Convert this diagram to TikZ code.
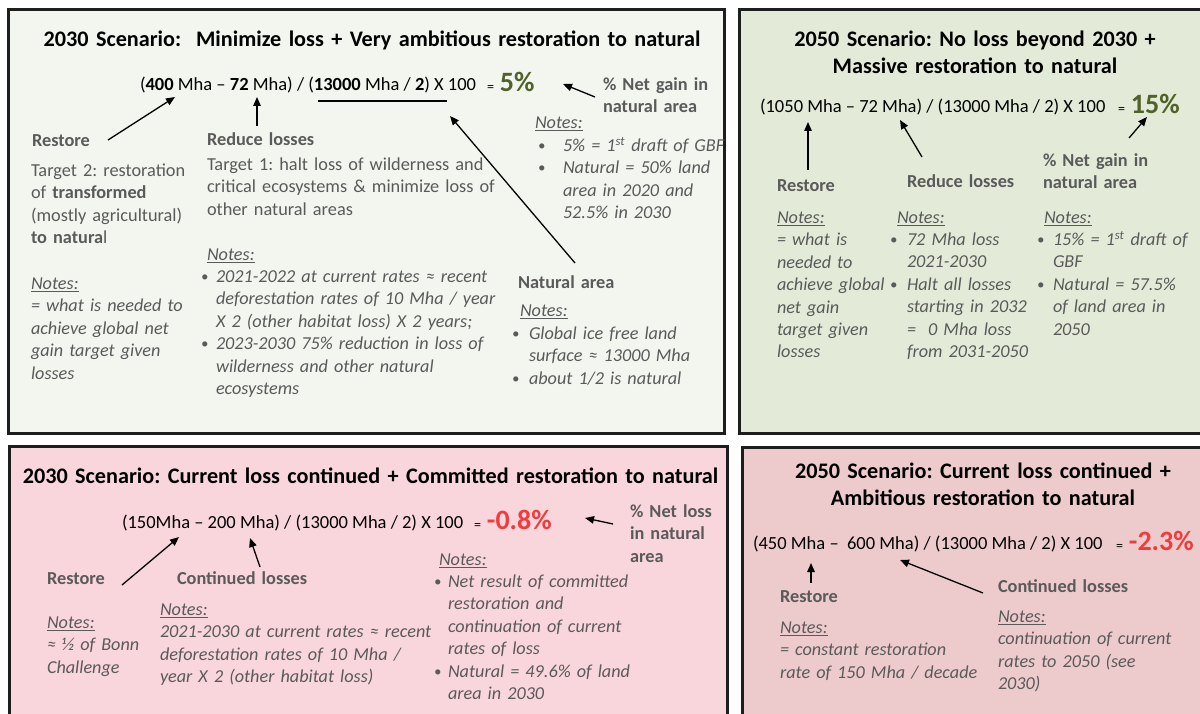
\documentclass[tikz,border=0pt]{standalone}
\usepackage{fontspec}
\setmainfont{Carlito}
\usetikzlibrary{arrows.meta}
\frenchspacing

\definecolor{paneA}{HTML}{F3F5EF}
\definecolor{paneB}{HTML}{E3EBD8}
\definecolor{paneC}{HTML}{F8D6DB}
\definecolor{paneD}{HTML}{EDCBCC}
\definecolor{frame}{HTML}{1E1E1E}
\definecolor{ink}{HTML}{5A5A5A}
\definecolor{gain}{HTML}{4F6228}
\definecolor{loss}{HTML}{F23C3C}

\newcommand{\bul}[1]{\makebox[#1][l]{\raisebox{1pt}{\scalebox{0.8}{\textbullet}}}}
\newcommand{\ind}[1]{\hspace*{#1}}
\newcommand{\nts}{\underline{Notes:}}
\newcommand{\eqsg}{{\fontsize{14}{14}\mdseries\selectfont\color{black}=}\hspace{6pt}}

\begin{document}
\begin{tikzpicture}[x=1pt, y=-1pt,
  every node/.style = {inner sep=0pt, outer sep=0pt, anchor=base west, align=left}]
  \tikzset{
    panel/.style = {draw=frame, line width=3pt},
    title/.style = {font=\bfseries\fontsize{22.2}{27}\selectfont, align=center, anchor=base, text width=760pt},
    eqn/.style = {font=\fontsize{18.5}{22}\selectfont},
    res/.style = {font=\bfseries\fontsize{28}{30}\selectfont},
    lbl/.style = {font=\bfseries\fontsize{18.3}{22.4}\selectfont, text=ink, text width=300pt},
    txt/.style = {font=\fontsize{18.3}{22.4}\selectfont, text=ink, text width=400pt},
    note/.style = {font=\itshape\fontsize{18.2}{22.4}\selectfont, text=ink, text width=400pt},
    conn/.style = {-{Triangle[length=9pt,width=7.5pt]}, line width=1.3pt}
  }
  \useasboundingbox (0,0) rectangle (1200,714);
  \fill[white] (0,0) rectangle (1200,714);
  \clip (0,0) rectangle (1200,714);

  % four scenario panels
  \draw[panel, fill=paneA] (8.5,9.5) rectangle (724,433);
  \draw[panel, fill=paneB] (739.5,9.5) rectangle (1215,433);
  \draw[panel, fill=paneC] (9,446.5) rectangle (727.3,725);
  \draw[panel, fill=paneD] (742,447) rectangle (1215,725);

  % 2030 minimize loss
  \node[title] (t1) at (372,47) {2030 Scenario:\ \ Minimize loss + Very ambitious restoration to natural};
  \node[eqn] (e1) at (140,91) {(\textbf{400} Mha -- \textbf{72} Mha) / (\textbf{13000} Mha / \textbf{2}) X 100};
  \node[res, text=gain] (r1) at (487,92) {\eqsg 5\%};
  \node[lbl] (rs1) at (32,147) {Restore};
  \node[txt] (tg2) at (31,176.5) {Target 2: restoration\\of \textbf{transformed}\\(mostly agricultural)\\\textbf{to natura}l};
  \node[note] (n1) at (31,289.5) {\nts\\= what is needed to\\achieve global net\\gain target given\\losses};
  \node[lbl] (rl1) at (207,146) {Reduce losses};
  \node[txt] (tg1) at (207,170.5) {Target 1: halt loss of wilderness and\\critical ecosystems \& minimize loss of\\other natural areas};
  \node[note] (n2) at (207,260.5) {\nts};
  \node[note] (b2) at (201,282.5) {\bul{15pt}2021-2022 at current rates ≈ recent\\\ind{15pt}deforestation rates of 10 Mha / year\\\ind{15pt}X 2 (other habitat loss) X 2 years;\\\bul{15pt}2023-2030 75\% reduction in loss of\\\ind{15pt}wilderness and other natural\\\ind{15pt}ecosystems};
  \node[lbl] (na1) at (518,288.5) {Natural area};
  \node[note] (n3) at (520,316.5) {\nts};
  \node[note] (b3) at (512,339.5) {\bul{17pt}Global ice free land\\\ind{17pt}surface ≈ 13000 Mha\\\bul{17pt}about 1/2 is natural};
  \node[lbl] (ng1) at (603,90.5) {\% Net gain in\\natural area};
  \node[note] (n4) at (535,128.5) {\nts};
  \node[note] (b4) at (538,151.5) {\bul{25pt}5\% = 1\textsuperscript{st} draft of GBF\\\bul{25pt}Natural = 50\% land\\\ind{25pt}area in 2020 and\\\ind{25pt}52.5\% in 2030};
  \coordinate (u1a) at (318,101);
  \coordinate (u1b) at (447,101);
  \draw[line width=1.2pt] (u1a) -- (u1b);
  \coordinate (p1a) at (108,140);  \coordinate (q1a) at (175,97);
  \coordinate (p1b) at (257,126);  \coordinate (q1b) at (257,97);
  \coordinate (p1c) at (575,263);  \coordinate (q1c) at (450,116);
  \coordinate (p1d) at (595,97);   \coordinate (q1d) at (563,84);
  \draw[conn] (p1a) -- (q1a);
  \draw[conn] (p1b) -- (q1b);
  \draw[conn] (p1c) -- (q1c);
  \draw[conn] (p1d) -- (q1d);

  % 2050 no loss
  \node[title] (t2) at (975,46.5) {2050 Scenario: No loss beyond 2030 +\\Massive restoration to natural};
  \node[eqn] (e2) at (760,113) {(1050 Mha -- 72 Mha) / (13000 Mha / 2) X 100};
  \node[res, text=gain] (r2) at (1118,114) {\eqsg 15\%};
  \node[lbl] (rs2) at (777,191.5) {Restore};
  \node[lbl] (rl2) at (907,187.5) {Reduce losses};
  \node[lbl] (ng2) at (1043,166.5) {\% Net gain in\\natural area};
  \node[note] (n5) at (777,223.5) {\nts\\= what is\\needed to\\achieve global\\net gain\\target given\\losses};
  \node[note] (n6) at (897,223.5) {\nts};
  \node[note] (b6) at (890,245.5) {\bul{17pt}72 Mha loss\\\ind{17pt}2021-2030\\\bul{17pt}Halt all losses\\\ind{17pt}starting in 2032\\\ind{17pt}=\ \ 0 Mha loss\\\ind{17pt}from 2031-2050};
  \node[note] (n7) at (1044,223.5) {\nts};
  \node[note] (b7) at (1037,245.5) {\bul{16pt}15\% = 1\textsuperscript{st} draft of\\\ind{16pt}GBF\\\bul{16pt}Natural = 57.5\%\\\ind{16pt}of land area in\\\ind{16pt}2050};
  \coordinate (p2a) at (808,170);  \coordinate (q2a) at (808,122);
  \coordinate (p2b) at (922,157);  \coordinate (q2b) at (900,120);
  \coordinate (p2c) at (1129,138); \coordinate (q2c) at (1147,117);
  \draw[conn] (p2a) -- (q2a);
  \draw[conn] (p2b) -- (q2b);
  \draw[conn] (p2c) -- (q2c);

  % 2030 current loss
  \node[title] (t3) at (370.5,483.5) {2030 Scenario: Current loss continued + Committed restoration to natural};
  \node[eqn] (e3) at (122,528) {(150Mha -- 200 Mha) / (13000 Mha / 2) X 100};
  \node[res, text=loss] (r3) at (474,529) {\eqsg -0.8\%};
  \node[lbl] (nl3) at (630,517.5) {\% Net loss\\in natural\\area};
  \node[lbl] (rs3) at (47,584.5) {Restore};
  \node[lbl] (cl3) at (177,584.5) {Continued losses};
  \node[note] (n8) at (47,628.5) {\nts\\≈ ½ of Bonn\\Challenge};
  \node[note] (n9) at (160,615.5) {\nts\\2021-2030 at current rates ≈ recent\\deforestation rates of 10 Mha /\\year X 2 (other habitat loss)};
  \node[note] (n10) at (439,565.5) {\nts};
  \node[note] (b10) at (434,587.5) {\bul{14pt}Net result of committed\\\ind{14pt}restoration and\\\ind{14pt}continuation of current\\\ind{14pt}rates of loss\\\bul{14pt}Natural = 49.6\% of land\\\ind{14pt}area in 2030};
  \coordinate (p3a) at (122,585);  \coordinate (q3a) at (179,537);
  \coordinate (p3b) at (260,567);  \coordinate (q3b) at (250,538);
  \coordinate (p3c) at (613,524);  \coordinate (q3c) at (585,518);
  \draw[conn] (p3a) -- (q3a);
  \draw[conn] (p3b) -- (q3b);
  \draw[conn] (p3c) -- (q3c);

  % 2050 current loss
  \node[title] (t4) at (983,478.5) {2050 Scenario: Current loss continued +\\Ambitious restoration to natural};
  \node[eqn] (e4) at (753,549) {(450 Mha --\ \ 600 Mha) / (13000 Mha / 2) X 100};
  \node[res, text=loss] (r4) at (1116,550) {\eqsg -2.3\%};
  \node[lbl] (rs4) at (780,602.5) {Restore};
  \node[note] (n11) at (780,633.5) {\nts\\= constant restoration\\rate of 150 Mha / decade};
  \node[lbl] (cl4) at (998,592.5) {Continued losses};
  \node[note] (n12) at (998,622.5) {\nts\\continuation of current\\rates to 2050 (see\\2030)};
  \coordinate (p4a) at (811,583);  \coordinate (q4a) at (811,563);
  \coordinate (p4b) at (983,593);  \coordinate (q4b) at (900,560);
  \draw[conn] (p4a) -- (q4a);
  \draw[conn] (p4b) -- (q4b);
\end{tikzpicture}
\end{document}
